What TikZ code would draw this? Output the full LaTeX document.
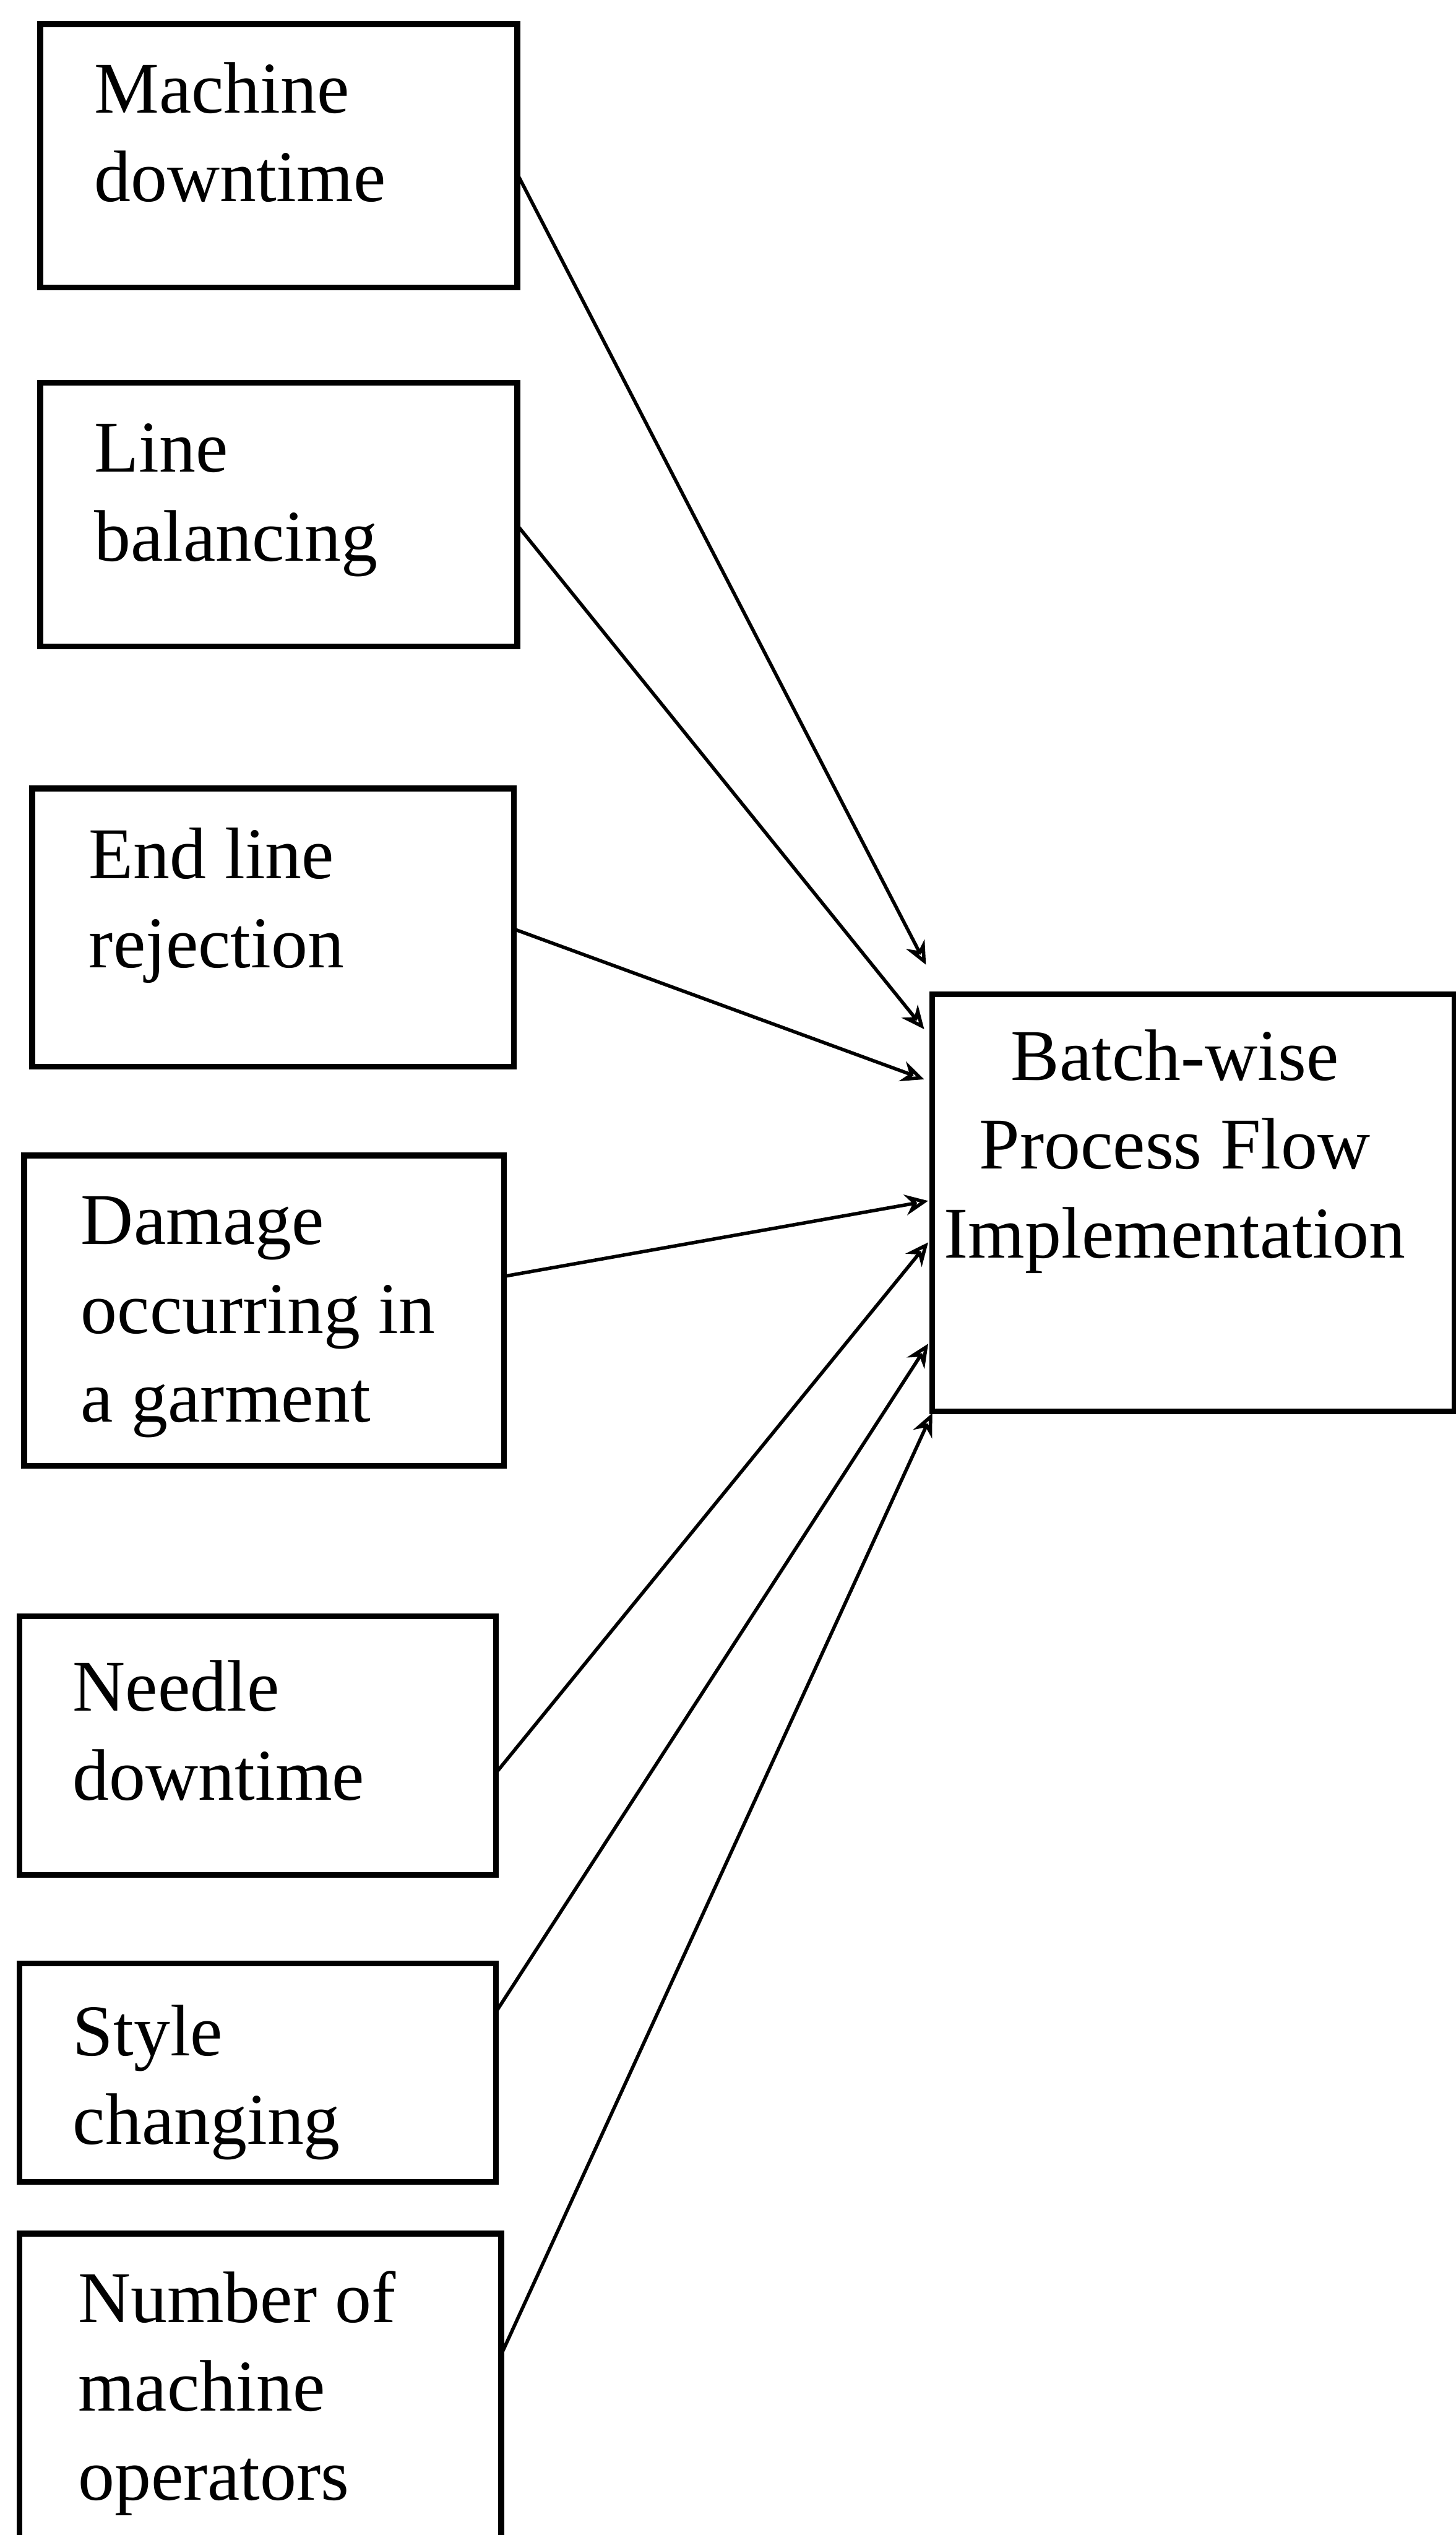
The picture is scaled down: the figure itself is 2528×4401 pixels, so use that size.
\documentclass[tikz,border=0pt]{standalone}
\usepackage{fontspec}
\setmainfont{Liberation Serif}
\usetikzlibrary{calc,arrows.meta}
\begin{document}
\begin{tikzpicture}[x=0.01cm,y=-0.01cm,
  box/.style={draw, line width=0.1cm, inner sep=0pt, outer sep=0pt},
  lbl/.style={anchor=north west, inner sep=0pt, align=left, font=\fontsize{36}{43.8}\selectfont},
  tlbl/.style={anchor=north, inner sep=0pt, align=center, font=\fontsize{36}{43.8}\selectfont},
  conn/.style={line width=0.06cm, -{Stealth[open, length=0.4cm, width=0.36cm]}}]
\useasboundingbox (0,0) rectangle (2528,4401);
\fill[white] (0,0) rectangle (2528,4401);
% source boxes
\node[box, minimum width=8.28cm, minimum height=4.57cm] (b1) at (484,270.5) {};
\node[box, minimum width=8.28cm, minimum height=4.57cm] (b2) at (484,893.5) {};
\node[box, minimum width=8.36cm, minimum height=4.83cm] (b3) at (474,1610.5) {};
\node[box, minimum width=8.33cm, minimum height=5.39cm] (b4) at (458.5,2275.5) {};
\node[box, minimum width=8.27cm, minimum height=4.49cm] (b5) at (447.5,3030.5) {};
\node[box, minimum width=8.27cm, minimum height=3.79cm] (b6) at (447.5,3598.5) {};
\node[box, minimum width=8.36cm, minimum height=6.22cm] (b7) at (452,4189) {};
% target box
\node[box, minimum width=9.06cm, minimum height=7.24cm] (t) at (2072,2088) {};
% labels
\node[lbl] (l1) at (163,107) {Machine\\downtime};
\node[lbl] (l2) at (163,735) {Line\\balancing};
\node[lbl] (l3) at (154,1437) {End line\\rejection};
\node[lbl] (l4) at (140,2077) {Damage\\occurring in\\a garment};
\node[lbl] (l5) at (126,2882) {Needle\\downtime};
\node[lbl] (l6) at (126,3480) {Style\\changing};
\node[lbl] (l7) at (135,3942) {Number of\\machine\\operators};
\node[tlbl] (lt) at (2040,1787) {Batch-wise\\Process Flow\\Implementation};
% connectors
\draw[conn] ($(b1.north east)+(0,260)$) -- ($(t.north west)+(-11,-51)$);
\draw[conn] ($(b2.north east)+(0,247)$) -- ($(t.north west)+(-14,61)$);
\draw[conn] ($(b3.north east)+(0,244)$) -- ($(t.north west)+(-14,148)$);
\draw[conn] ($(b4.north east)+(0,210)$) -- ($(t.north west)+(-7,359)$);
\draw[conn] ($(b5.north east)+(0,272)$) -- ($(t.north west)+(-7,431)$);
\draw[conn] ($(b6.north east)+(0,84)$) -- ($(t.north west)+(-7,607)$);
\draw[conn] ($(b7.north east)+(0,210)$) -- ($(t.south west)+(0,3)$);
\end{tikzpicture}
\end{document}
